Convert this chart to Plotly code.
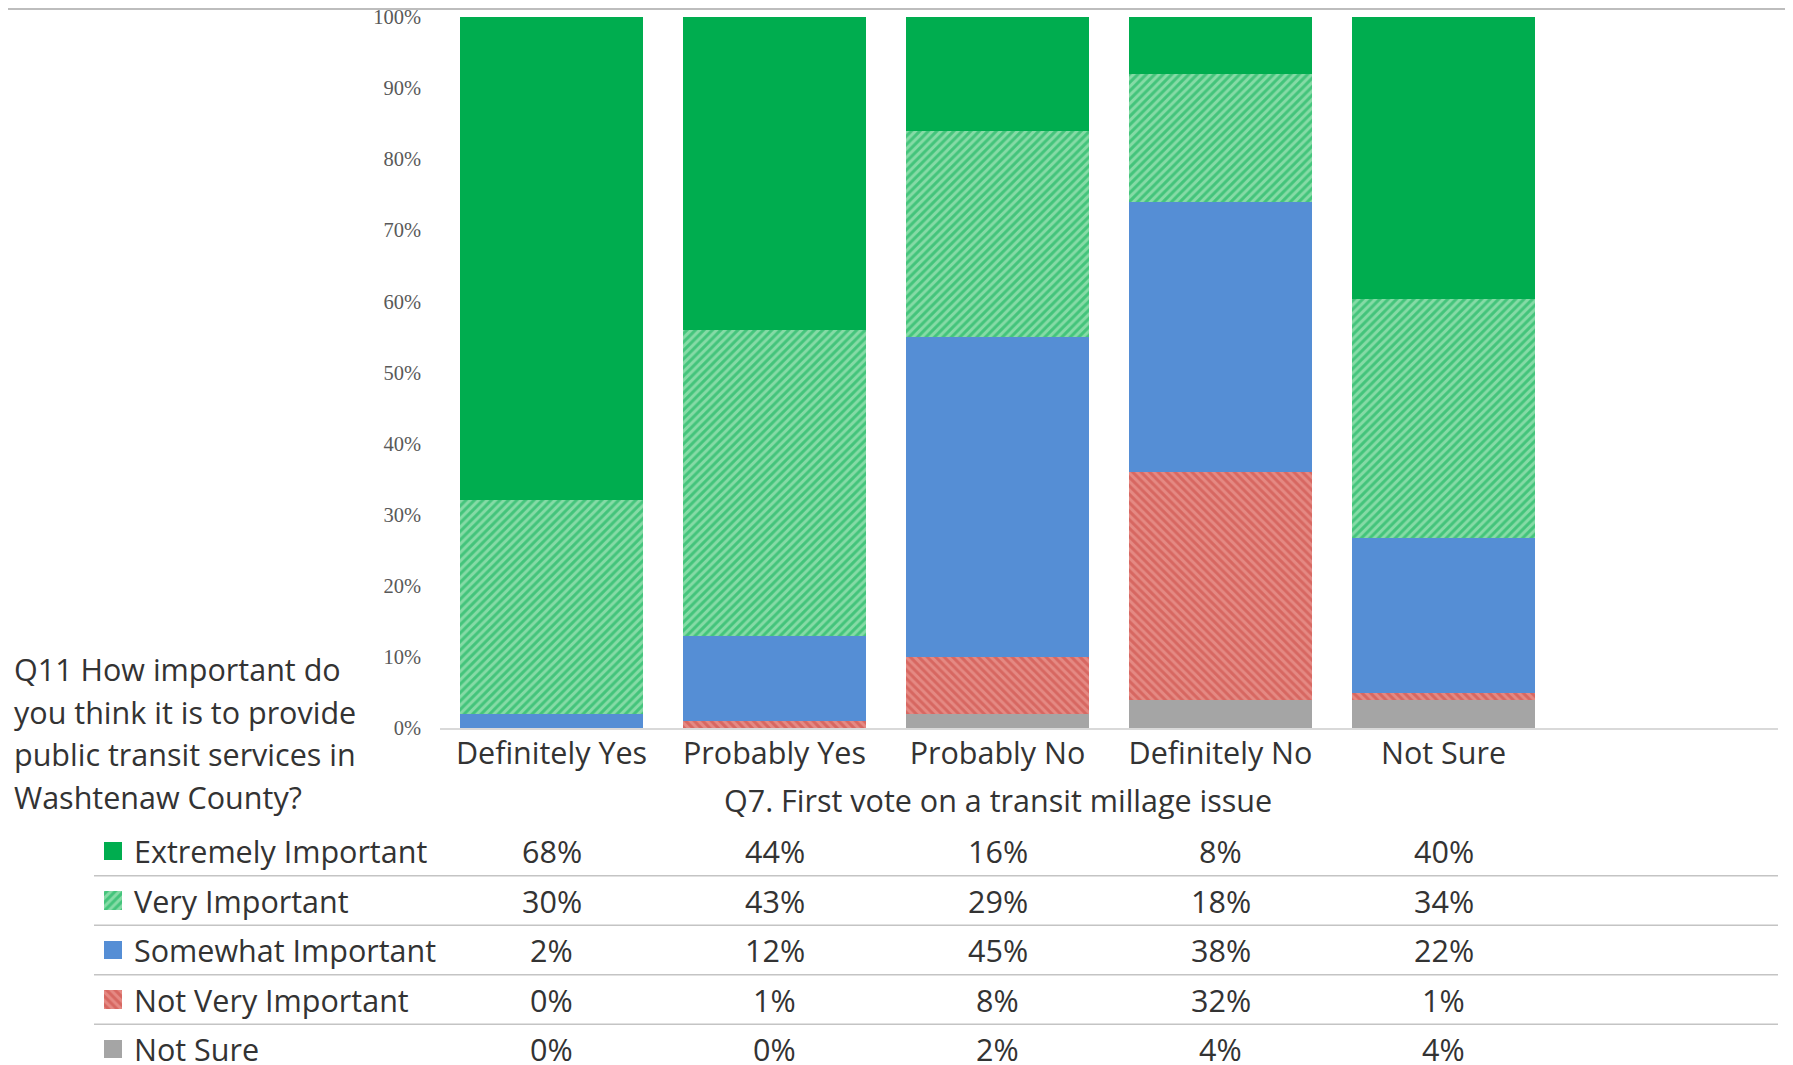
import plotly.graph_objects as go

# ---------------- data ----------------
categories = ["Definitely Yes", "Probably Yes", "Probably No", "Definitely No", "Not Sure"]
extremely_important = [68, 44, 16, 8, 40]
very_important = [30, 43, 29, 18, 34]
somewhat_important = [2, 12, 45, 38, 22]
not_very_important = [0, 1, 8, 32, 1]
not_sure = [0, 0, 2, 4, 4]
y_ticks = [0, 10, 20, 30, 40, 50, 60, 70, 80, 90, 100]
x_title = "Q7. First vote on a transit millage issue"
question_lines = ["Q11 How important do", "you think it is to provide",
                  "public transit services in", "Washtenaw County?"]

W, H = 1793, 1065
OX, OY = 8, 8          # page body margin offset
FONT = "Open Sans"
TXT = "#333333"
FS = 30.5

def px_x(p):
    return (p - OX) / W

def px_y(p):
    return 1 - (p - OY) / H

series = [
    ("Not Sure", not_sure, dict(color="#a5a5a5")),
    ("Not Very Important", not_very_important,
     dict(color="#e58983", pattern=dict(shape="\\", fgcolor="#c9463f", size=6, solidity=0.5, fillmode="overlay"))),
    ("Somewhat Important", somewhat_important, dict(color="#558ed5")),
    ("Very Important", very_important,
     dict(color="#86dba6", pattern=dict(shape="/", fgcolor="#00ad4f", size=6, solidity=0.5, fillmode="overlay"))),
    ("Extremely Important", extremely_important, dict(color="#00ad4f")),
]

fig = go.Figure()
for name, vals, mk in series:
    fig.add_trace(go.Bar(
        name=name, x=categories, y=vals,
        marker=dict(line=dict(width=0), **mk),
        showlegend=False, hoverinfo="skip",
    ))

rows = list(reversed(series))
row_idx = list(range(len(rows)))

for i, (name, vals, mk) in enumerate(rows):
    fig.add_trace(go.Bar(
        x=[1], y=[i], base=[0], orientation="h", width=0.37,
        marker=dict(line=dict(width=0), **mk),
        xaxis="x2", yaxis="y2", showlegend=False, hoverinfo="skip",
    ))

annotations = []
for i, (name, vals, mk) in enumerate(rows):
    annotations.append(dict(
        text=name, xref="paper", x=px_x(132), yref="y2", y=i,
        xanchor="left", yanchor="middle", showarrow=False,
        font=dict(family=FONT, size=FS, color=TXT)))
    for c, v in zip(categories, vals):
        annotations.append(dict(
            text=f"{v}%", xref="x", x=c, yref="y2", y=i,
            xanchor="center", yanchor="middle", showarrow=False,
            font=dict(family=FONT, size=FS, color=TXT)))

annotations.append(dict(
    text=x_title, xref="x", x=categories[len(categories) // 2], yref="paper", y=px_y(800),
    xanchor="center", yanchor="middle", showarrow=False,
    font=dict(family=FONT, size=FS, color=TXT)))

for k, line in enumerate(question_lines):
    annotations.append(dict(
        text=line, xref="paper", x=px_x(12), yref="paper", y=px_y(669 + 42.5 * k),
        xanchor="left", yanchor="middle", showarrow=False,
        font=dict(family=FONT, size=FS, color=TXT)))

shapes = []
shapes.append(dict(type="line", xref="paper", yref="paper", x0=0, x1=1,
                   y0=px_y(9), y1=px_y(9), line=dict(color="#bdbdbd", width=2)))
for i in row_idx[:-1]:
    shapes.append(dict(type="line", xref="paper", yref="y2", x0=px_x(94), x1=px_x(1778),
                       y0=i + 0.5, y1=i + 0.5, line=dict(color="#c4c4c4", width=1.5)))

fig.update_layout(
    width=W, height=H,
    margin=dict(l=0, r=0, t=0, b=0),
    paper_bgcolor="white", plot_bgcolor="white",
    barmode="stack", barnorm="percent", bargap=0.175,
    font=dict(family=FONT, color=TXT),
    xaxis=dict(
        domain=[px_x(440), px_x(1778)], type="category",
        categoryorder="array", categoryarray=categories,
        range=[-0.5, 5.5], showline=True, linecolor="#d9d9d9", linewidth=1.5,
        ticks="", showgrid=False, zeroline=False, automargin=False,
        ticklabelstandoff=-2,
        tickfont=dict(family=FONT, size=FS, color=TXT),
        anchor="y",
    ),
    yaxis=dict(
        domain=[px_y(728), px_y(17)], range=[0, 100],
        tickvals=y_ticks, ticktext=[f"{t}%" for t in y_ticks],
        showgrid=False, zeroline=False, showline=False, ticks="", automargin=False,
        ticklabelstandoff=18, ticklabeloverflow="allow",
        tickfont=dict(family="Liberation Serif", size=20.5, color="#595959"),
    ),
    xaxis2=dict(domain=[px_x(104), px_x(122)], range=[0, 1], visible=False, anchor="y2"),
    yaxis2=dict(domain=[px_y(1063.85), px_y(826.25)], range=[4.3, -0.5], visible=False, anchor="x2"),
    annotations=annotations,
    shapes=shapes,
)

fig.write_html("out.html", config={"displayModeBar": False})
